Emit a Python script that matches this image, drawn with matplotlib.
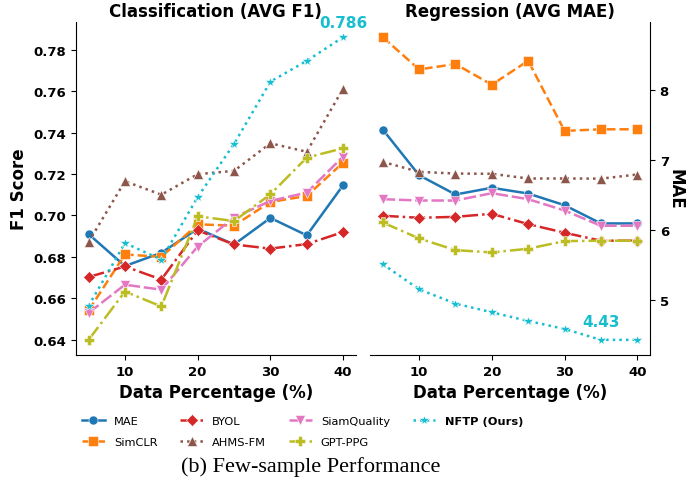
import matplotlib
matplotlib.use("Agg")
import matplotlib.pyplot as plt

pct = [5, 10, 15, 20, 25, 30, 35, 40]
methods = ["MAE", "SimCLR", "BYOL", "AHMS-FM", "SiamQuality", "GPT-PPG", "NFTP (Ours)"]

f1_mae = [0.691, 0.6756, 0.682, 0.6936, 0.686, 0.6988, 0.6904, 0.7146]
f1_simclr = [0.6542, 0.6812, 0.680, 0.6957, 0.6951, 0.7065, 0.7094, 0.7255]
f1_byol = [0.6703, 0.6754, 0.6691, 0.6928, 0.686, 0.684, 0.6862, 0.692]
f1_ahms = [0.6872, 0.7165, 0.710, 0.7199, 0.7215, 0.7348, 0.7307, 0.7612]
f1_siam = [0.653, 0.6666, 0.6642, 0.685, 0.699, 0.707, 0.711, 0.7284]
f1_gpt = [0.640, 0.6633, 0.6561, 0.6996, 0.6973, 0.7102, 0.7279, 0.7324]
f1_nftp = [0.6564, 0.6867, 0.6787, 0.7089, 0.7345, 0.7645, 0.7746, 0.786]

mae_mae = [7.44, 6.786, 6.51, 6.606, 6.524, 6.357, 6.096, 6.096]
mae_simclr = [8.762, 8.30, 8.377, 8.081, 8.424, 7.42, 7.443, 7.443]
mae_byol = [6.206, 6.177, 6.19, 6.234, 6.086, 5.963, 5.849, 5.849]
mae_ahms = [6.977, 6.834, 6.81, 6.806, 6.739, 6.739, 6.737, 6.796]
mae_siam = [6.443, 6.424, 6.424, 6.529, 6.443, 6.281, 6.063, 6.063]
mae_gpt = [6.11, 5.881, 5.714, 5.681, 5.734, 5.843, 5.849, 5.849]
mae_nftp = [5.514, 5.153, 4.949, 4.824, 4.70, 4.586, 4.43, 4.43]

f1_series = [f1_mae, f1_simclr, f1_byol, f1_ahms, f1_siam, f1_gpt, f1_nftp]
mae_series = [mae_mae, mae_simclr, mae_byol, mae_ahms, mae_siam, mae_gpt, mae_nftp]

colors = ["tab:blue", "tab:orange", "tab:red", "tab:brown", "tab:pink", "tab:olive", "tab:cyan"]
markers = ["o", "s", "D", "^", "v", "P", "*"]
styles = ["-", "--", "-.", ":", (0, (5, 1.5)), "-.", ":"]

plt.rcParams["font.family"] = ["DejaVu Sans"]
fig = plt.figure(figsize=(6.96, 4.85), dpi=100)
axL = fig.add_axes([0.109, 0.266, 0.4023, 0.6866])
axR = fig.add_axes([0.5316, 0.266, 0.4023, 0.6866])

handles = []
for i, name in enumerate(methods):
    kw = dict(color=colors[i], marker=markers[i], linestyle=styles[i], linewidth=1.8,
              markersize=7 if markers[i] == "*" else 6.5, markeredgecolor="white", markeredgewidth=0.4)
    h, = axL.plot(pct, f1_series[i], label=name, **kw)
    axR.plot(pct, mae_series[i], **kw)
    handles.append(h)

for ax in (axL, axR):
    ax.spines["top"].set_visible(False)
    ax.set_xticks([10, 20, 30, 40])
    ax.set_xlabel("Data Percentage (%)", fontsize=12, fontweight="bold")

axL.spines["right"].set_visible(False)
axR.spines["left"].set_visible(False)
axR.yaxis.tick_right()
axR.yaxis.set_label_position("right")
axL.set_yticks([0.64, 0.66, 0.68, 0.70, 0.72, 0.74, 0.76, 0.78])
axL.set_yticklabels(["0.64", "0.66", "0.68", "0.70", "0.72", "0.74", "0.76", "0.78"], fontweight="bold", fontsize=9.5)
axR.set_yticks([5, 6, 7, 8])
axR.set_yticklabels(["5", "6", "7", "8"], fontweight="bold", fontsize=9.5)
axL.set_xticklabels(["10", "20", "30", "40"], fontweight="bold", fontsize=9.5)
axR.set_xticklabels(["10", "20", "30", "40"], fontweight="bold", fontsize=9.5)

axL.set_ylabel("F1 Score", fontsize=12, fontweight="bold")
axR.set_ylabel("MAE", fontsize=12, fontweight="bold", rotation=270, labelpad=11)
axL.set_title("Classification (AVG F1)", fontsize=12, fontweight="bold", pad=4)
axR.set_title("Regression (AVG MAE)", fontsize=12, fontweight="bold", pad=4)

axL.annotate(f"{f1_nftp[-1]:.3f}", xy=(pct[-1], f1_nftp[-1]), xytext=(0, 5), textcoords="offset points",
             ha="center", va="bottom", color="tab:cyan", fontsize=11, fontweight="bold")
axR.annotate(f"{mae_nftp[-2]:.2f}", xy=(pct[-2], mae_nftp[-2]), xytext=(0, 8), textcoords="offset points",
             ha="center", va="bottom", color="tab:cyan", fontsize=11, fontweight="bold")

leg = fig.legend(handles=handles, loc="center", bbox_to_anchor=(0.4346, 0.108), ncol=4,
                 frameon=False, fontsize=8.2, handlelength=2.0, columnspacing=2.0, labelspacing=0.95)
for t in leg.get_texts():
    if t.get_text().startswith("NFTP"):
        t.set_fontweight("bold")

fig.text(0.447, 0.037, "(b) Few-sample Performance", ha="center", va="center",
         fontsize=16, family="Liberation Serif")

fig.savefig("out.png", dpi=100)
